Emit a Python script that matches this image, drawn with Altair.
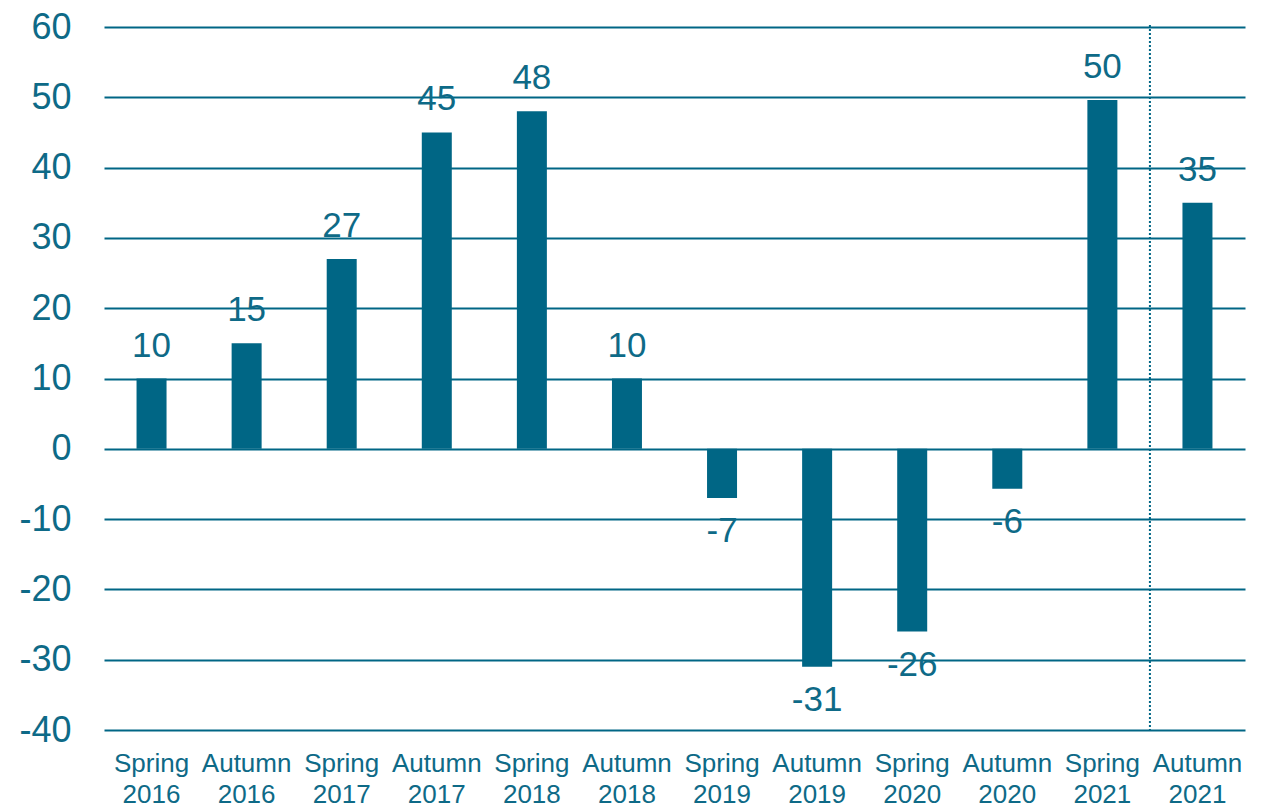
import altair as alt
import pandas as pd

categories = ["Spring 2016", "Autumn 2016", "Spring 2017", "Autumn 2017",
              "Spring 2018", "Autumn 2018", "Spring 2019", "Autumn 2019",
              "Spring 2020", "Autumn 2020", "Spring 2021", "Autumn 2021"]
values = [10, 15, 27, 45, 48, 10, -7, -31, -26, -5.7, 49.6, 35]
labels = ["10", "15", "27", "45", "48", "10", "-7", "-31", "-26", "-6", "50", "35"]
y_ticks = [-40, -30, -20, -10, 0, 10, 20, 30, 40, 50, 60]

separator_category = "Autumn 2021"
separator_top = 60.3
separator_bottom = -40.14

TEAL = "#006685"
TEXT = "#0E6A87"
FONT = "Liberation Sans"

df = pd.DataFrame({"cat": categories, "value": values, "label": labels})
sep = pd.DataFrame({"cat": [separator_category], "y1": [separator_top], "y2": [separator_bottom]})

xscale = alt.Scale(domain=categories, paddingInner=0, paddingOuter=0)
yscale = alt.Scale(domain=[-40, 60], nice=False, zero=False)

x_axis = alt.Axis(labelAngle=0, labelExpr="split(datum.label, ' ')",
                  labelFont=FONT, labelFontSize=26, labelColor=TEXT,
                  labelLineHeight=31, labelBaseline="top", labelPadding=20,
                  domain=False, ticks=False, grid=False, title=None)

y_axis = alt.Axis(values=y_ticks, labelExpr="toString(datum.value)",
                  labelFont=FONT, labelFontSize=36,
                  labelColor=TEXT, labelPadding=33, domain=False, ticks=False,
                  grid=True, gridColor=TEAL, gridWidth=2, gridOpacity=1, title=None)

base = alt.Chart(df)
X = alt.X("cat:N", scale=xscale, sort=categories, axis=x_axis)

bars = base.mark_bar(color=TEAL, size=30).encode(
    x=X,
    y=alt.Y("value:Q", scale=yscale, axis=y_axis),
)

pos_text = base.transform_filter("datum.value >= 0").mark_text(
    font=FONT, fontSize=35, color=TEXT, baseline="bottom", dy=-15
).encode(x=X, y=alt.Y("value:Q", scale=yscale), text="label:N")

neg_text = base.transform_filter("datum.value < 0").mark_text(
    font=FONT, fontSize=35, color=TEXT, baseline="top", dy=16
).encode(x=X, y=alt.Y("value:Q", scale=yscale), text="label:N")

rule = alt.Chart(sep).mark_rule(color=TEAL, strokeWidth=2, strokeDash=[2, 2], clip=False).encode(
    x=alt.X("cat:N", scale=xscale, sort=categories, bandPosition=0, axis=x_axis),
    y=alt.Y("y1:Q", scale=yscale),
    y2="y2:Q",
)

chart = alt.layer(bars, pos_text, neg_text, rule).properties(
    width=1141, height=703,
    autosize=alt.AutoSizeParams(type="none"),
    padding={"left": 96, "top": 19, "right": 8, "bottom": 85},
).configure(background="white").configure_view(stroke="white", strokeWidth=1, strokeOpacity=1)

chart.save("out.html", embed_options={"renderer": "svg", "actions": False})
